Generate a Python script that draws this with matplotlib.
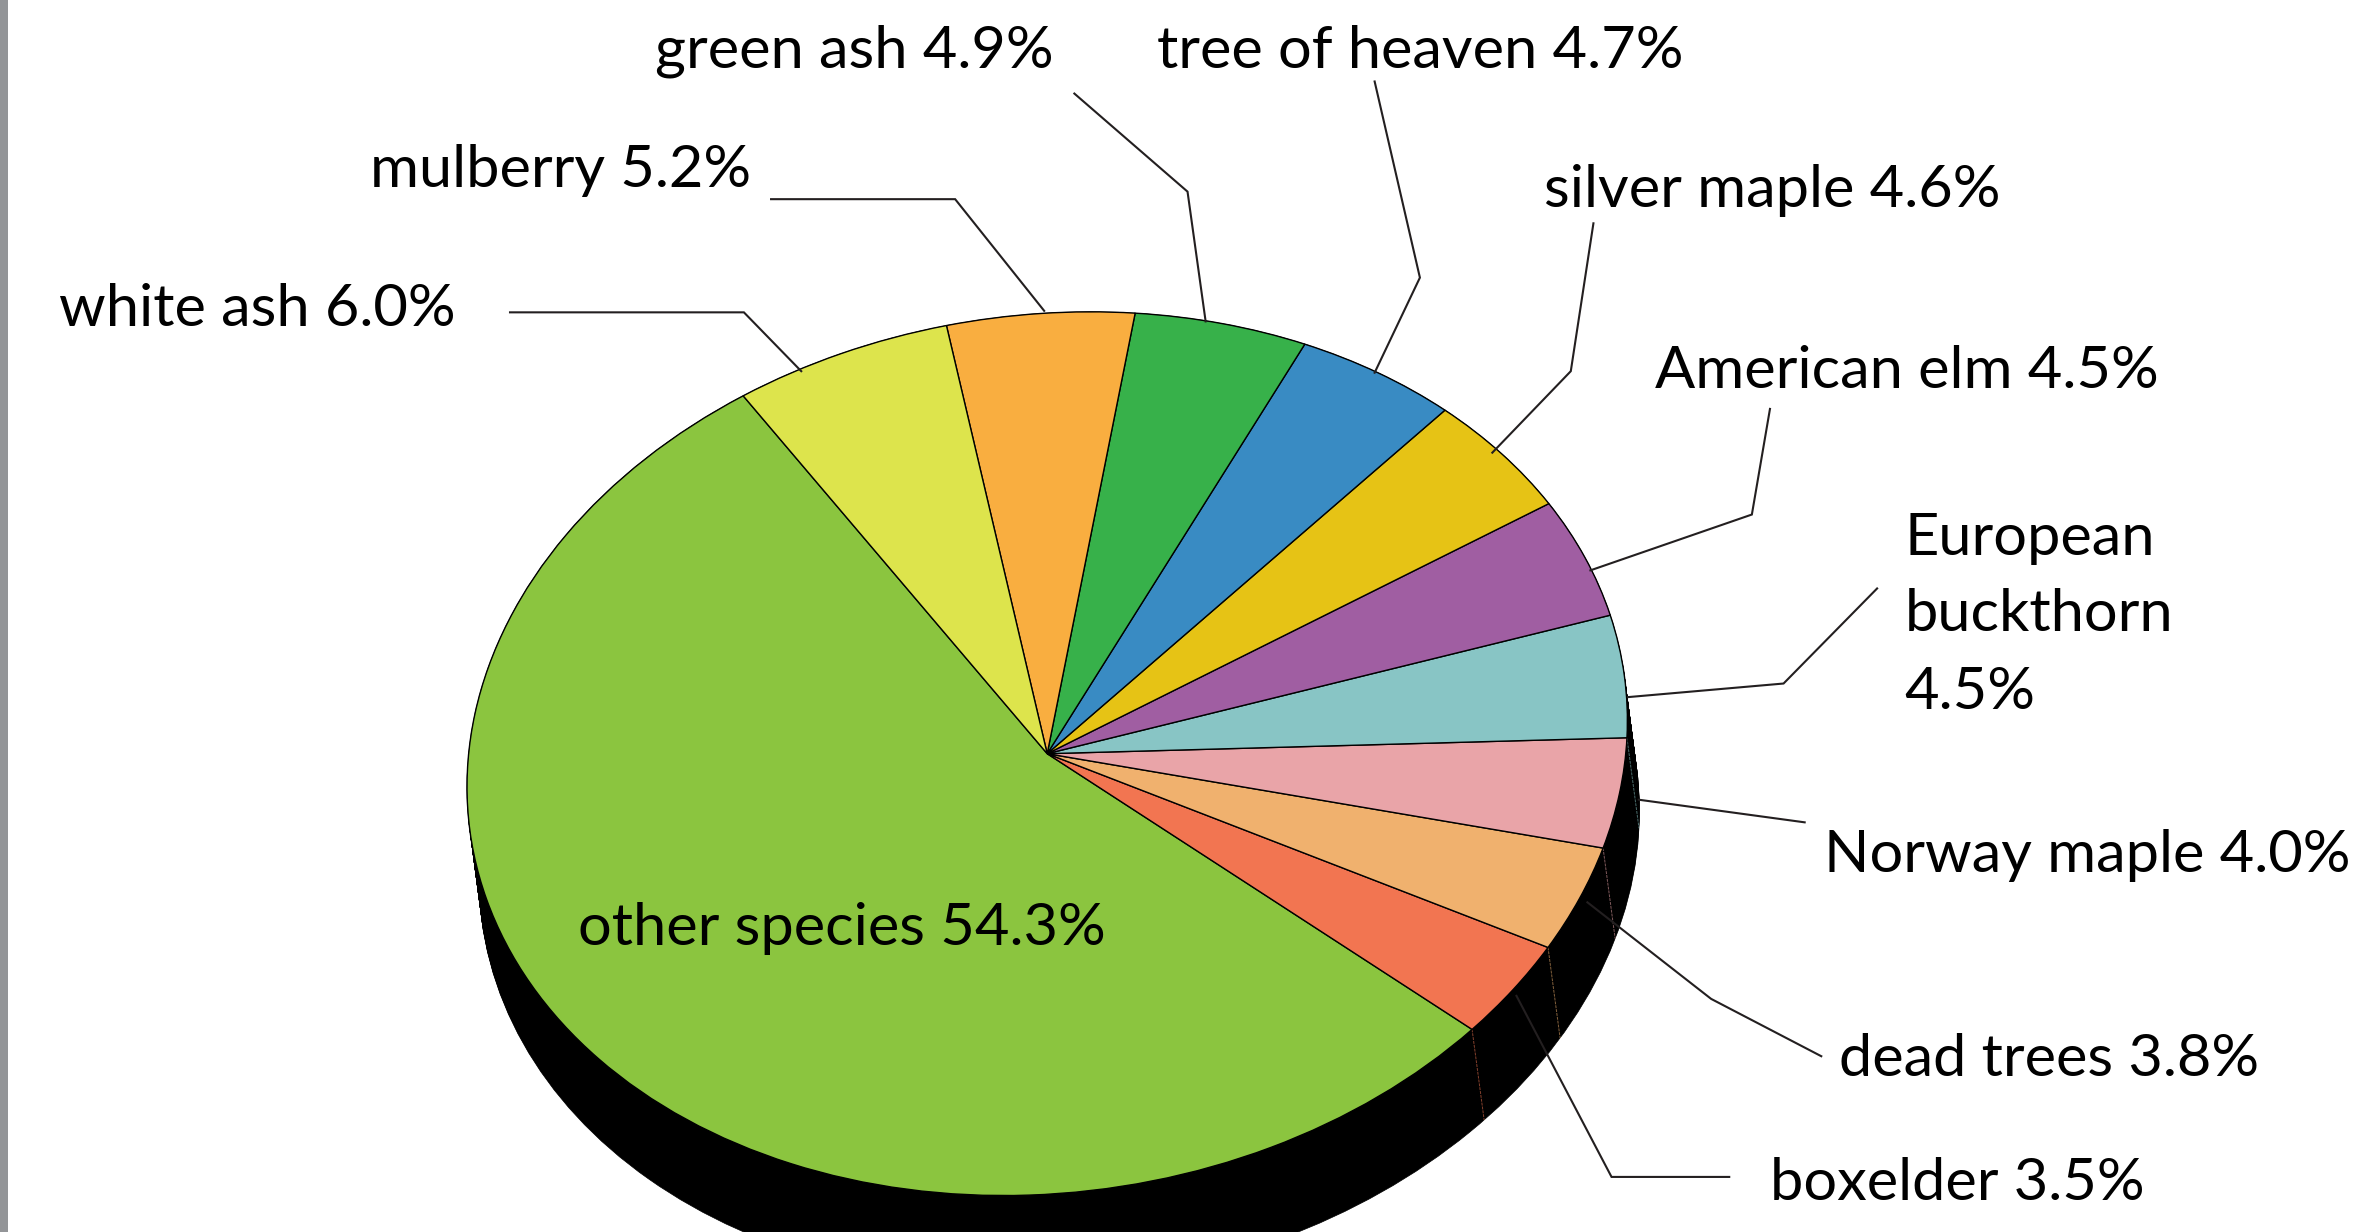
import matplotlib
matplotlib.use('Agg')
import matplotlib.pyplot as plt
from matplotlib.patches import Ellipse
from matplotlib.transforms import Affine2D
import numpy as np

species = ['other species', 'boxelder', 'dead trees', 'Norway maple', 'European\nbuckthorn\n',
           'American elm', 'silver maple', 'tree of heaven', 'green ash', 'mulberry', 'white ash']
shares = [54.3, 3.5, 3.8, 4.0, 4.5, 4.5, 4.6, 4.7, 4.9, 5.2, 6.0]
colors = ['#8BC53F', '#F27551', '#F0B16E', '#E9A4A8', '#88C5C5', '#A05EA2',
          '#E6C315', '#398BC3', '#37B14A', '#F9AE40', '#DDE44C']

# label anchor (left, baseline) in the picture's 1568 wide frame
label_pos = [(383, 626), (1173, 795), (1219, 713), (1209, 578), (1262, 368), (1097, 257),
             (1023, 137), (767, 45), (434, 45), (245, 124), (39, 216)]

leaders = [
    None,
    [(1146, 780), (1068, 780), (1005, 660)],
    [(1207, 700), (1134, 662), (1052, 598)],
    [(1196, 545), (1086, 530)],
    [(1244, 390), (1182, 453), (1079, 462)],
    [(1173, 271), (1161, 341), (1054, 378)],
    [(1056, 148), (1041, 246), (989, 300)],
    [(911, 54), (941, 184), (911, 247)],
    [(712, 62), (787, 127), (799, 213)],
    [(511, 132), (633, 132), (692, 206)],
    [(338, 207), (493, 207), (531, 246)],
]

W, H = 1568, 816.5
CX, CY = 694, 499.5
RX, RY, TILT = 384.5, 292, 22
DEPTH_X, DEPTH_Y = 8, 60
FONT = 'Lato'
FSIZE = 42.8

fig = plt.figure(figsize=(23.66, 12.32), dpi=100)
ax = fig.add_axes([0, 0, 1, 1])

wedges, _ = ax.pie(shares, colors=colors, startangle=121.6, counterclock=True,
                   wedgeprops=dict(edgecolor='black', linewidth=1.0))
ax.set_aspect('auto')
ax.set_xlim(0, W)
ax.set_ylim(H, 0)
ax.axis('off')

# unit circle -> tilted ellipse on the page
page = Affine2D.from_values(RX, -TILT, 0, -RY, CX, CY)
for w in wedges:
    w.set_transform(page + ax.transData)
    w.set_zorder(5)

# black side wall: the same ellipse stacked downwards
for t in np.linspace(0, 1, 60):
    shifted = page + Affine2D().translate(DEPTH_X * t, DEPTH_Y * t) + ax.transData
    e = Ellipse((0, 0), 2, 2, facecolor='black', edgecolor='black', linewidth=0.5, zorder=2)
    e.set_transform(shifted)
    ax.add_patch(e)

# faint seams on the wall at the slice boundaries
for w, col in zip(wedges, colors):
    a = np.deg2rad(w.theta1)
    u, v = np.cos(a), np.sin(a)
    if v < 0.12:
        x, y = page.transform((u, v))
        ax.plot([x, x + DEPTH_X], [y, y + DEPTH_Y], color=col, lw=0.7, ls=(0, (3, 1)),
                alpha=0.55, zorder=3)

for pts in leaders:
    if pts is None:
        continue
    xs, ys = zip(*pts)
    ax.plot(xs, ys, color='#231F20', lw=1.5, solid_joinstyle='miter', zorder=6)

for name, share, (x, y) in zip(species, shares, label_pos):
    if name.endswith('\n'):
        lines = name.strip().split('\n') + [f'{share:.1f}%']
        for line, yy in zip(lines, (y, y + 50, y + 102)):
            ax.text(x, yy, line, fontsize=FSIZE, family=FONT, color='black', va='baseline', zorder=7)
    else:
        ax.text(x, y, f'{name} {share:.1f}%', fontsize=FSIZE, family=FONT, color='black',
                va='baseline', zorder=7)

# grey strip on the left edge
ax.axvspan(0, 5.5, color='#939598', lw=0, zorder=8)

fig.savefig('out.png', dpi=100, facecolor='white')
